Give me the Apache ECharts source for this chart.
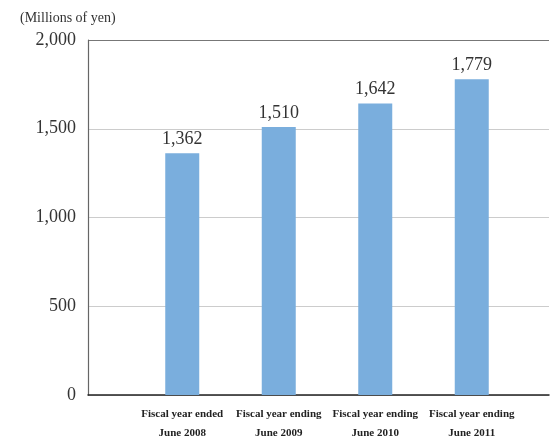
<!DOCTYPE html>
<html>
<head>
<meta charset="utf-8">
<script src="https://cdn.jsdelivr.net/npm/echarts@6/dist/echarts.min.js"></script>
<style>
  html, body { margin: 0; padding: 0; background: #fff; }
  #chart { width: 550px; height: 444px; }
</style>
</head>
<body>
<div id="chart"></div>
<script>
// Net sales by fiscal year (millions of yen)
const categories = [
  'Fiscal year ended\nJune 2008',
  'Fiscal year ending\nJune 2009',
  'Fiscal year ending\nJune 2010',
  'Fiscal year ending\nJune 2011'
];
const sales = [1362, 1510, 1642, 1779];
const yTicks = { min: 0, max: 2000, interval: 500 };
const unitLabel = '(Millions of yen)';

const serif = '"Liberation Serif", "DejaVu Serif", serif';
const fmt = v => v.toLocaleString('en-US');

const chart = echarts.init(document.getElementById('chart'), null, { renderer: 'canvas' });
chart.setOption({
  animation: false,
  backgroundColor: '#fff',
  graphic: [{
    type: 'text', left: 20, top: 11,
    style: { text: unitLabel, font: '14px ' + serif, fill: '#333' }
  }],
  grid: [
    // frame, gridlines and value axis
    { left: 88, right: 1, top: 40, bottom: 49 },
    // bars and category labels
    { left: 134, width: 386, top: 40, bottom: 49 }
  ],
  xAxis: [
    {
      gridIndex: 0, type: 'value', min: 0, max: 1,
      axisLine: { show: true, lineStyle: { color: '#222', width: 1.5 } },
      axisTick: { show: false }, axisLabel: { show: false }, splitLine: { show: false }
    },
    {
      gridIndex: 1, type: 'category', data: categories,
      axisLine: { show: false }, axisTick: { show: false },
      axisLabel: {
        margin: 10, interval: 0, color: '#222',
        fontFamily: serif, fontWeight: 'bold', fontSize: 11, lineHeight: 19
      }
    }
  ],
  yAxis: [
    {
      gridIndex: 0, type: 'value', ...yTicks,
      axisLine: { show: true, lineStyle: { color: '#666', width: 1.2 } },
      axisTick: { show: false },
      axisLabel: {
        margin: 12, color: '#333', fontFamily: serif, fontSize: 18,
        formatter: v => fmt(v)
      },
      splitLine: {
        show: true,
        lineStyle: { color: ['#ccc', '#ccc', '#ccc', '#ccc', '#777'], width: 1.2 }
      }
    },
    {
      gridIndex: 1, type: 'value', ...yTicks, show: false,
      splitLine: { show: false }
    }
  ],
  series: [{
    type: 'bar',
    xAxisIndex: 1, yAxisIndex: 1,
    data: sales,
    barWidth: 34,
    itemStyle: { color: '#7aaedd' },
    label: {
      show: true, position: 'top', distance: 5,
      color: '#333', fontFamily: serif, fontSize: 18,
      formatter: p => fmt(p.value)
    }
  }]
});
</script>
</body>
</html>
